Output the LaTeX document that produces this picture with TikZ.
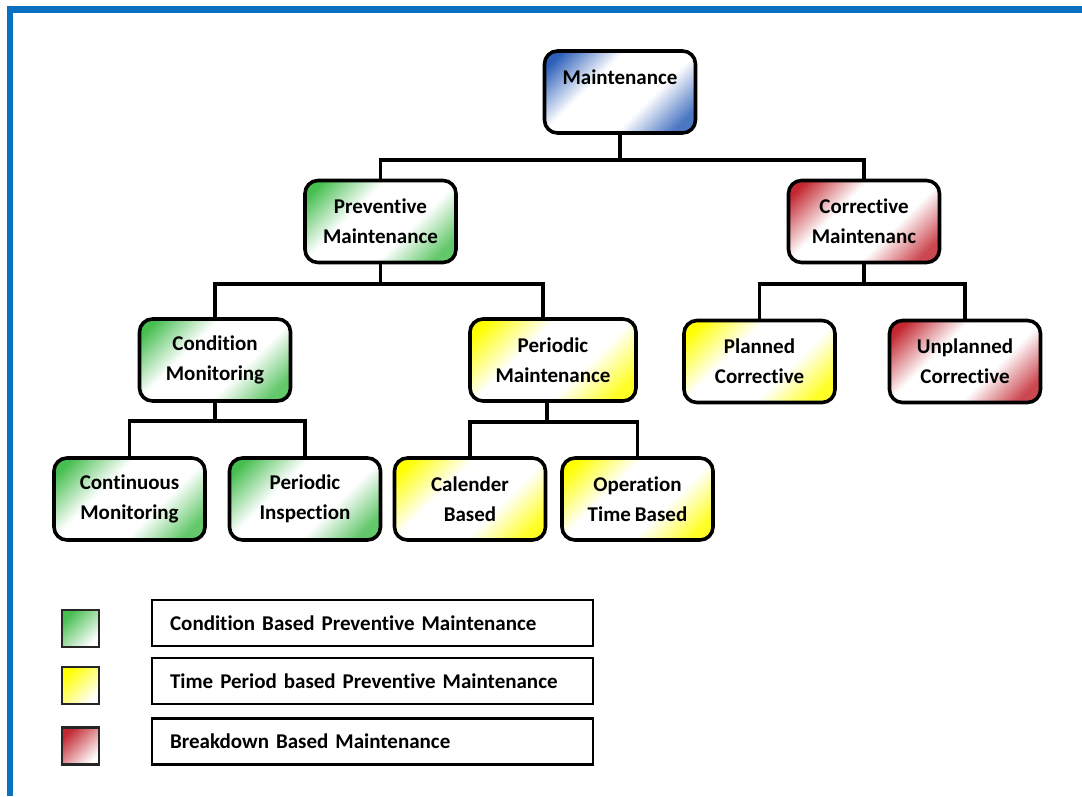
\documentclass[tikz,border=0pt]{standalone}
\usepackage{fontspec}
\setmainfont{Carlito}[Ligatures={NoCommon,NoContextual},WordSpace=0.85]
\usetikzlibrary{calc}
\definecolor{frameblue}{RGB}{10,112,192}
\definecolor{cgreen}{RGB}{70,190,80}
\definecolor{cyellow}{RGB}{255,255,0}
\definecolor{cred}{RGB}{195,40,50}
\definecolor{cblue}{RGB}{45,95,185}
\newcommand{\mkshade}[1]{%
  \pgfdeclareverticalshading{sh#1}{100bp}{color(0bp)=(c#1!85); color(22bp)=(c#1!85); color(39bp)=(white); color(61bp)=(white); color(80bp)=(c#1); color(100bp)=(c#1)}}
\mkshade{green}\mkshade{yellow}\mkshade{red}\mkshade{blue}
\tikzset{
  box/.style={draw=black, line width=3.6pt, rounded corners=13pt, align=center,
    minimum width=151pt, minimum height=82pt, inner sep=2pt,
    font=\bfseries\fontsize{21}{30}\selectfont,
    shade, shading=sh#1, shading angle=45},
  conn/.style={line width=3.8pt, line cap=rect},
  legsq/.style={draw=black!85, line width=2.2pt, minimum width=37pt, minimum height=37pt,
    inner sep=0pt, shading=axis, left color=#1, right color=white, shading angle=45},
  legbox/.style={draw=black, line width=2.2pt, minimum width=441pt, minimum height=46pt,
    inner sep=0pt, anchor=west, text width=405pt, align=left,
    font=\bfseries\fontsize{21}{24}\selectfont}
}
\begin{document}
\begin{tikzpicture}[x=1pt,y=-1pt]
\useasboundingbox (0,0) rectangle (1082,796);
% frame
\fill[frameblue] (7,6) rectangle (1082,12.5);
\fill[frameblue] (7,6) rectangle (13.2,796);
% nodes
\node[box=blue, text depth=30pt] (root) at (620,92) {Maintenance};
\node[box=green] (prev) at (380.5,221.5) {Preventive\\Maintenance};
\node[box=red] (corr) at (864,221.5) {Corrective\\Maintenanc};
\node[box=green] (cond) at (215,360) {Condition\\Monitoring};
\node[box=yellow, minimum width=166pt] (perm) at (553,360) {Periodic\\Maintenance};
\node[box=yellow] (plan) at (759.5,361.5) {Planned\\Corrective};
\node[box=red] (unpl) at (965,361.5) {Unplanned\\Corrective};
\node[box=green] (cont) at (129.5,499) {Continuous\\Monitoring};
\node[box=green] (pins) at (305,499) {Periodic\\Inspection};
\node[box=yellow] (cal) at (470,499) {Calender\\Based};
\node[box=yellow] (opt) at (637.5,499) {Operation\\Time Based};
% connectors
\draw[conn] (root.south) -- ++(0,25) -| (prev.north);
\draw[conn] (root.south) -- ++(0,25) -| (corr.north);
\draw[conn] (prev.south) -- ++(0,20) -| (cond.north);
\draw[conn] (prev.south) -- ++(0,20) -| ([xshift=-10pt]perm.north);
\draw[conn] (corr.south) -- ++(0,20) -| (plan.north);
\draw[conn] (corr.south) -- ++(0,20) -| (unpl.north);
\draw[conn] (cond.south) -- ++(0,18) -| (cont.north);
\draw[conn] (cond.south) -- ++(0,18) -| (pins.north);
\draw[conn] ([xshift=-6pt]perm.south) -- ++(0,19) -| (cal.north);
\draw[conn] ([xshift=-6pt]perm.south) -- ++(0,19) -| (opt.north);
% legend
\node[legsq=cgreen] (sq1) at (80.5,628.5) {};
\node[legsq=cyellow] (sq2) at (80.5,685.5) {};
\node[legsq=cred] (sq3) at (80.5,746) {};
\node[legbox] (lb1) at (151,623) {Condition Based Preventive Maintenance};
\node[legbox] (lb2) at (151,681) {Time Period based Preventive Maintenance};
\node[legbox] (lb3) at (151,741.5) {Breakdown Based Maintenance};
\end{tikzpicture}
\end{document}
